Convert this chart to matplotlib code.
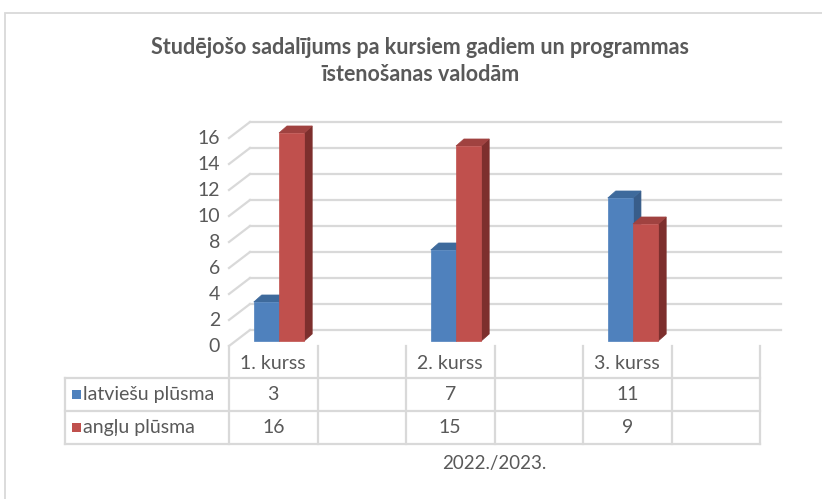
import numpy as np
import matplotlib.pyplot as plt
from matplotlib.patches import Polygon, Rectangle

plt.rcParams['font.family'] = ['Lato', 'DejaVu Sans']

# Data
title = 'Studējošo sadalījums pa kursiem gadiem un programmas\nīstenošanas valodām'
courses = ['1. kurss', '2. kurss', '3. kurss']
series_names = ['latviešu plūsma', 'angļu plūsma']
latvian = [3, 7, 11]
english = [16, 15, 9]
period = '2022./2023.'
y_ticks = [0, 2, 4, 6, 8, 10, 12, 14, 16]

# Styles
face_colors = ['#4F81BD', '#C0504D']
side_colors = ['#385D8A', '#7D2F2D']
top_colors = ['#3E6A9C', '#A04240']
grid_color = '#D9D9D9'
text_color = '#595959'

# Layout (data units: one column per slot, value units on y)
n_slots = 2 * len(courses)          # every course is followed by an empty column
bar_off, bar_w = 0.28, 0.285        # first bar start inside a slot, bar width
depth_x, depth_y = 0.09, 0.54       # 3D depth of bars
wall_x, wall_y = 0.237, 0.846       # back wall shift
floor_y = -0.385                    # front edge of the floor

fig = plt.figure(figsize=(8.22, 4.99), dpi=100)
ax = fig.add_axes([0, 0, 1, 1])
ax.set_xlim(-229 / 88.5, (822 - 229) / 88.5)
ax.set_ylim((341 - 499) / 13, 341 / 13)
ax.axis('off')

# chart border
fig.patches.append(Rectangle((5 / 822, -0.1), 1.2, 1.1 - 13 / 499,
                             transform=fig.transFigure, fill=False,
                             edgecolor=grid_color, lw=1.3))

fig.text(0.511, 1 - 61 / 499, title, ha='center', va='center', fontsize=15.5,
         fontweight='bold', color=text_color, linespacing=1.3)

# back wall gridlines + diagonal floor ticks
for v in y_ticks:
    ax.plot([wall_x, n_slots + wall_x], [v + wall_y, v + wall_y],
            color=grid_color, lw=1.6, zorder=1)
    ax.plot([0, wall_x], [v + floor_y, v + wall_y], color=grid_color, lw=1.6, zorder=1)
    ax.text(-0.1, v + floor_y, str(v), ha='right', va='center', fontsize=14,
            color=text_color)

# 3D bars
for i, vals in enumerate([latvian, english]):
    for k, v in enumerate(vals):
        x0 = 2 * k + bar_off + i * bar_w
        x1 = x0 + bar_w
        front = Rectangle((x0, 0), bar_w, v, facecolor=face_colors[i],
                          edgecolor=face_colors[i], lw=0.5, zorder=3)
        side = Polygon([(x1, 0), (x1 + depth_x, depth_y), (x1 + depth_x, v + depth_y), (x1, v)],
                       closed=True, facecolor=side_colors[i], edgecolor=side_colors[i],
                       lw=0.5, zorder=3)
        top = Polygon([(x0, v), (x0 + depth_x, v + depth_y), (x1 + depth_x, v + depth_y), (x1, v)],
                      closed=True, facecolor=top_colors[i], edgecolor=top_colors[i],
                      lw=0.5, zorder=3)
        ax.add_patch(side)
        ax.add_patch(top)
        ax.add_patch(front)

# data table
row_lines = [(341 - y) / 13 for y in (378, 411, 444)]
header_top = floor_y
table_left = (65 - 229) / 88.5
for y in row_lines:
    ax.plot([table_left, n_slots], [y, y], color=grid_color, lw=1.6, zorder=1)
for s in range(n_slots + 1):
    ax.plot([s, s], [header_top, row_lines[-1]], color=grid_color, lw=1.6, zorder=1)
ax.plot([table_left, table_left], [row_lines[0], row_lines[-1]], color=grid_color, lw=1.6)

header_y = (header_top + row_lines[0]) / 2 - 0.15
for k, c in enumerate(courses):
    ax.text(2 * k + 0.5, header_y, c, ha='center', va='center', fontsize=14, color=text_color)

for i, (name, vals) in enumerate(zip(series_names, [latvian, english])):
    yc = (row_lines[i] + row_lines[i + 1]) / 2
    ax.add_patch(Rectangle((table_left + 0.08, yc - 0.33), 0.1, 0.66,
                           facecolor=face_colors[i], edgecolor='none'))
    ax.text(table_left + 0.2, yc, name, ha='left', va='center', fontsize=14,
            color=text_color)
    for k, v in enumerate(vals):
        ax.text(2 * k + 0.5, yc, str(v), ha='center', va='center', fontsize=14,
                color=text_color)

ax.text(n_slots / 2, (341 - 463) / 13, period, ha='center', va='center',
        fontsize=13.5, color=text_color)

fig.savefig('out.png', dpi=100)
